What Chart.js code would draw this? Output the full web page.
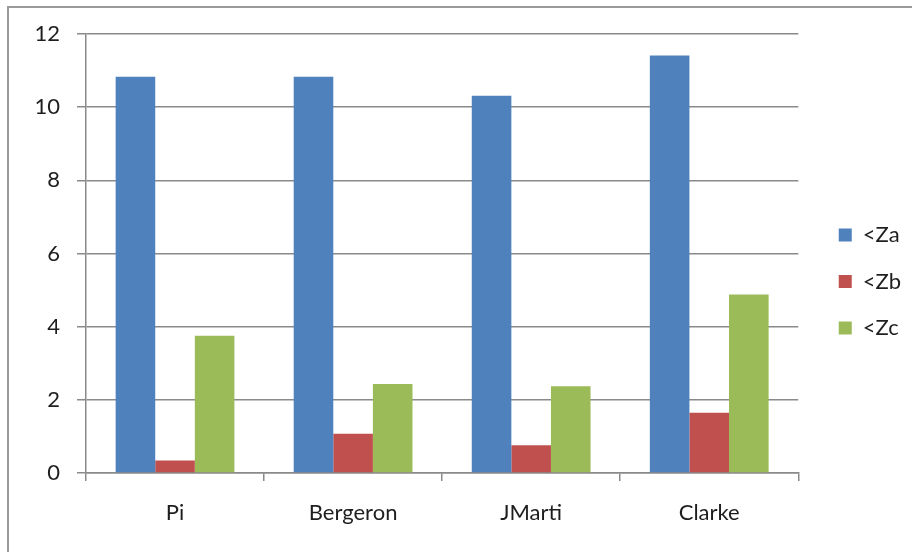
<!DOCTYPE html>
<html>
<head>
<meta charset="utf-8">
<script src="https://cdn.jsdelivr.net/npm/chart.js@4/dist/chart.umd.min.js"></script>
<style>
  html, body { margin: 0; padding: 0; background: #fff; overflow: hidden; }
  #frame {
    position: absolute; left: 7px; top: 6px; width: 940px; height: 580px;
    border: 2px solid #9a9a9a; box-sizing: border-box;
  }
  #chart { position: absolute; left: 0; top: 0; }
</style>
</head>
<body>
<div id="frame"></div>
<canvas id="chart" width="912" height="552"></canvas>
<script>
// Categories and series values
const categories = ['Pi', 'Bergeron', 'JMarti', 'Clarke'];
const seriesNames = ['<Za', '<Zb', '<Zc'];
const zaValues = [10.83, 10.83, 10.31, 11.41];
const zbValues = [0.34, 1.07, 0.76, 1.65];
const zcValues = [3.75, 2.43, 2.37, 4.88];
// Value axis range
const yMin = 0;
const yMax = 12;
const yStep = 2;

const colors = ['#4F81BD', '#C0504D', '#9BBB59'];
const gridColor = '#8a8a8a';
const textColor = '#1e1e1e';
const font = { family: 'Lato', size: 22 };

const chart = new Chart(document.getElementById('chart'), {
  type: 'bar',
  data: {
    labels: categories,
    datasets: [zaValues, zbValues, zcValues].map((vals, i) => ({
      label: seriesNames[i],
      data: vals,
      backgroundColor: colors[i],
      borderWidth: 0,
      categoryPercentage: 0.667,
      barPercentage: 1.0
    }))
  },
  options: {
    responsive: false,
    animation: false,
    devicePixelRatio: 1,
    layout: { padding: { top: 34, right: 1, bottom: 23, left: 0 } },
    plugins: {
      tooltip: { enabled: false },
      legend: {
        position: 'right',
        align: 'center',
        labels: {
          boxWidth: 13,
          boxHeight: 13,
          padding: 24.5,
          color: textColor,
          font: font
        }
      }
    },
    scales: {
      x: {
        grid: { offset: true, drawOnChartArea: false, tickLength: 8, color: gridColor, lineWidth: 1.5 },
        border: { color: gridColor, width: 1.5 },
        ticks: { color: textColor, font: font, padding: 19, maxRotation: 0 },
        afterFit(scale) { scale.height = 56; }
      },
      y: {
        min: yMin,
        max: yMax,
        ticks: { stepSize: yStep, color: textColor, font: font, padding: 17 },
        grid: { color: gridColor, tickLength: 9, lineWidth: 1.5 },
        border: { color: gridColor, width: 1.5 },
        afterFit(scale) { scale.width = 86; }
      },
      // blank spacer between the plot and the legend
      spacer: {
        type: 'linear',
        position: 'right',
        grid: { display: false },
        ticks: { display: false },
        border: { display: false },
        afterFit(scale) { scale.width = 16; }
      }
    }
  }
});
</script>
</body>
</html>
